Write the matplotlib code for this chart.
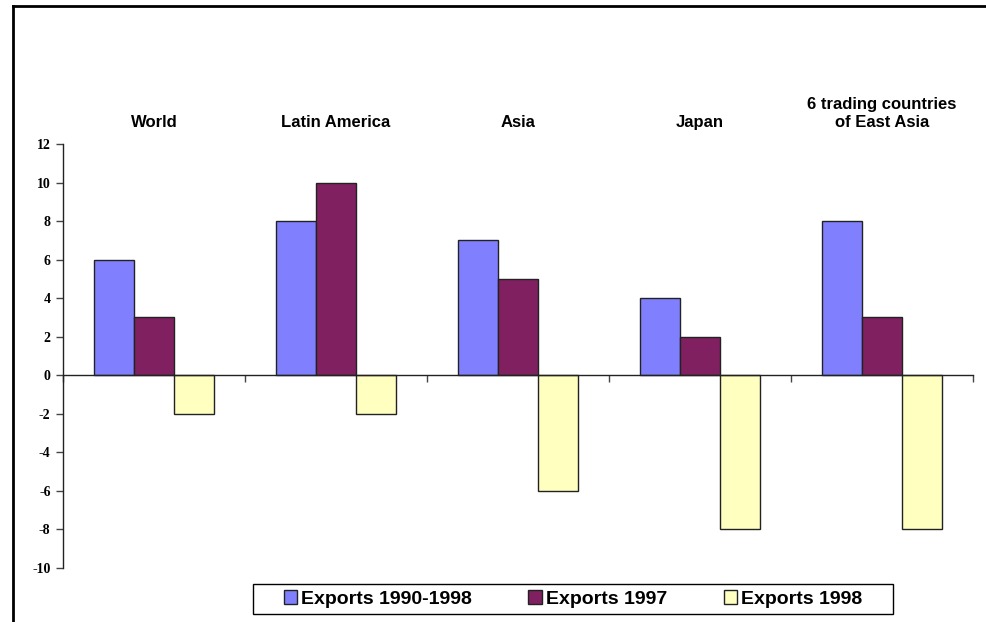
import matplotlib
matplotlib.use("Agg")
import matplotlib.pyplot as plt
from matplotlib.lines import Line2D
from matplotlib.patches import Rectangle
import numpy as np

plt.rcParams["axes.unicode_minus"] = False

categories = ["World", "Latin America", "Asia", "Japan", "6 trading countries\nof East Asia"]
series_names = ["Exports 1990-1998", "Exports 1997", "Exports 1998"]
exports_1990_1998 = [6, 8, 7, 4, 8]
exports_1997 = [3, 10, 5, 2, 3]
exports_1998 = [-2, -2, -6, -8, -8]
yticks = [-10, -8, -6, -4, -2, 0, 2, 4, 6, 8, 10, 12]

colors = ["#8080FF", "#802060", "#FFFFC0"]

fig = plt.figure(figsize=(9.86, 6.22), dpi=100)
ax = fig.add_axes([63/986, (622-568)/622, (973-63)/986, (568-144)/622])

x = np.arange(len(categories)) + 0.5
w = 0.22
for i, (vals, c, name) in enumerate(zip([exports_1990_1998, exports_1997, exports_1998], colors, series_names)):
    ax.bar(x + (i - 1) * w, vals, width=w, color=c, edgecolor="#222222", linewidth=1.0, label=name, zorder=2)

ax.set_xlim(0, len(categories))
ax.set_ylim(-10, 12)
ax.set_yticks(yticks)
ax.set_yticklabels([str(v) for v in yticks])
ax.set_xticks(np.arange(len(categories) + 1))
ax.set_xticklabels([])
ax.spines["top"].set_visible(False)
ax.spines["right"].set_visible(False)
ax.spines["bottom"].set_position(("data", 0))
ax.spines["bottom"].set_zorder(3)
for s in ["left", "bottom"]:
    ax.spines[s].set_linewidth(1.0)
    ax.spines[s].set_color("#222222")
ax.tick_params(axis="x", direction="out", length=5, width=1, color="#444444")
ax.tick_params(axis="y", direction="out", length=5, width=1, color="#444444", pad=4)
for lab in ax.get_yticklabels():
    lab.set_fontfamily("Liberation Serif")
    lab.set_fontweight("bold")
    lab.set_fontsize(10)

for xi, cat in zip(x, categories):
    ax.text(xi, 12.75, cat, ha="center", va="bottom", multialignment="center",
            fontsize=12, fontweight="bold", family="Liberation Sans", linespacing=1.2)

# legend box
fig.add_artist(Rectangle((253/986, (622-614)/622), (893-253)/986, 30/622,
                         transform=fig.transFigure, facecolor="white", edgecolor="black", lw=1.0, zorder=4))
leg = fig.legend(loc="center", bbox_to_anchor=(573/986, (622-599)/622), ncol=3,
                 prop={"family": "Liberation Sans", "weight": "bold", "size": 14},
                 frameon=False,
                 handlelength=0.7, handleheight=0.7, handletextpad=0.2,
                 columnspacing=2.9, borderpad=0.25, borderaxespad=0)
leg.set_zorder(5)

# figure border (left and top)
fig.add_artist(Line2D([12.5/986, 12.5/986], [0, 1 - 6/622], transform=fig.transFigure, color="black", lw=2))
fig.add_artist(Line2D([12.5/986, 1], [1 - 6/622, 1 - 6/622], transform=fig.transFigure, color="black", lw=2))

fig.savefig("out.png", dpi=100)
